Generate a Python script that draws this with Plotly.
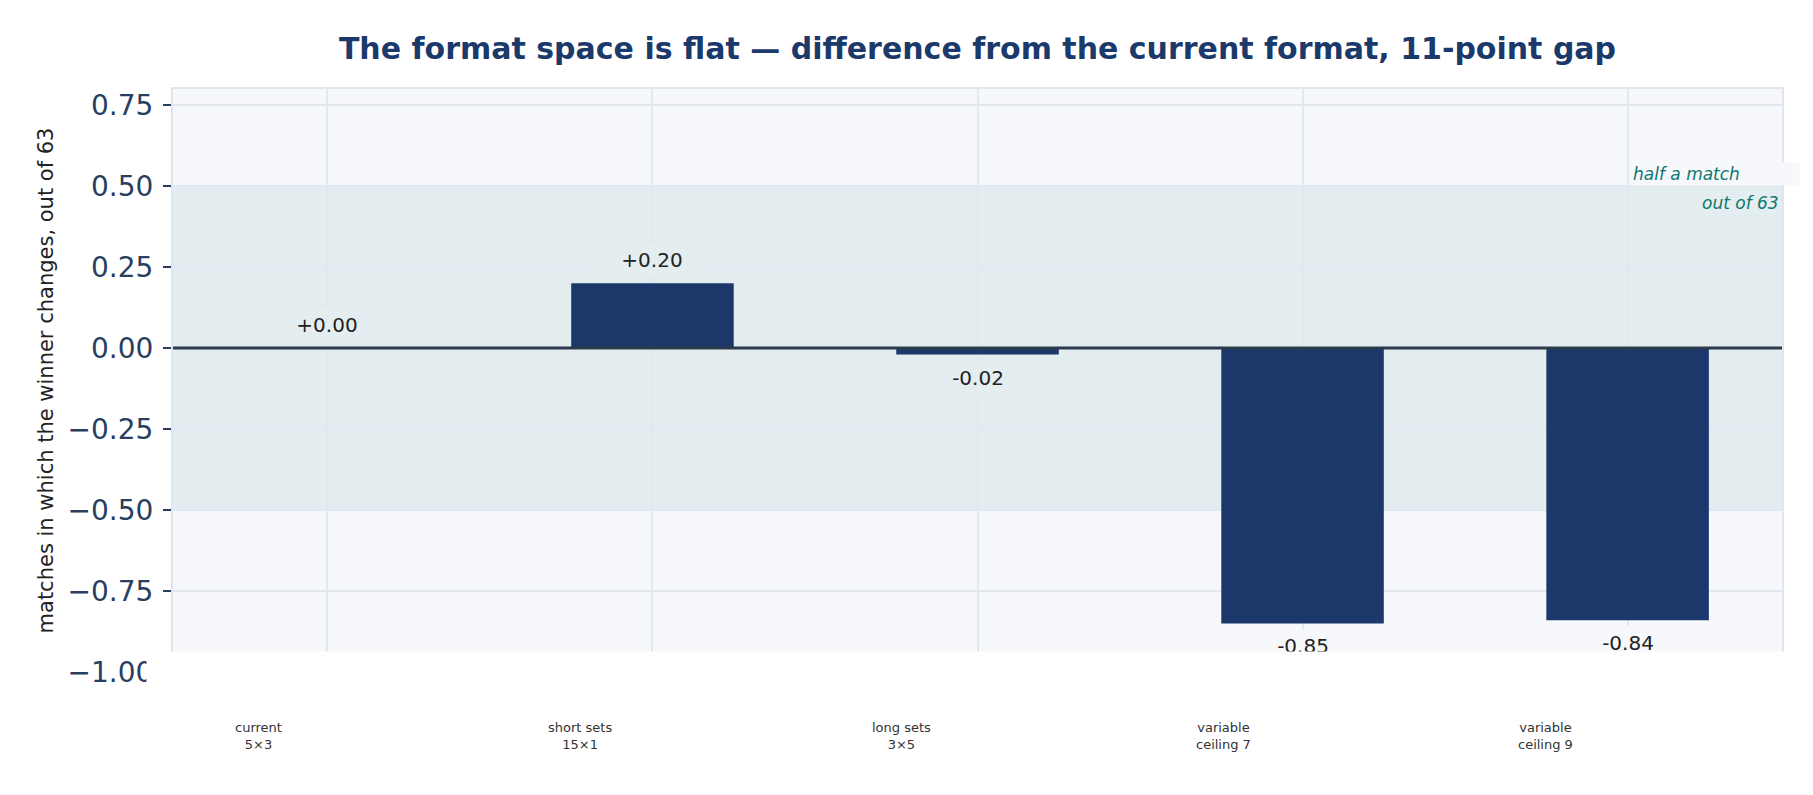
import plotly.graph_objects as go

# format options compared against the current one
formats = ["current<br>5×3", "short sets<br>15×1", "long sets<br>3×5",
           "variable<br>ceiling 7", "variable<br>ceiling 9"]
diff = [0.00, 0.20, -0.02, -0.85, -0.84]
yticks = [-1.0, -0.75, -0.5, -0.25, 0.0, 0.25, 0.5, 0.75]

NAVY = "#1c386a"
TEAL = "#0f766e"
PLOT_BG = "#f6f8fb"
BAND_BG = "#e4edf0"
GRID = "#e2e8f0"
FONT = "DejaVu Sans"

fig = go.Figure()
fig.add_trace(go.Bar(
    x=formats,
    y=diff,
    width=0.5,
    marker=dict(color=NAVY, line=dict(width=0)),
    showlegend=False,
    hoverinfo="skip",
))

# band of +/- half a match
fig.add_hrect(y0=-0.5, y1=0.5, fillcolor="rgba(15,118,110,0.08)",
              line_width=0, layer="below")
fig.add_hline(y=0, line=dict(color="#2d3a4b", width=3), layer="above")

annotations = []
for f, v in zip(formats, diff):
    annotations.append(dict(
        x=f, y=v, xref="x", yref="y",
        text="{:+.2f}".format(v),
        showarrow=False,
        yanchor="middle",
        yshift=23 if v >= 0 else -23,
        width=90,
        borderpad=4,
        bgcolor=BAND_BG if abs(v) < 0.5 else PLOT_BG,
        font=dict(family=FONT, size=20, color="#222222"),
    ))

# blank white strip over the bottom of the plot area
annotations.append(dict(
    x=-0.017, y=0.036, xref="paper", yref="paper",
    xanchor="left", yanchor="top",
    text=" ", showarrow=False,
    width=1680, height=220,
    bgcolor="white",
))

for i, f in enumerate(formats):
    annotations.append(dict(
        x=(i + 0.265) / len(formats), y=-0.11, xref="paper", yref="paper",
        text=f, showarrow=False,
        xanchor="center", yanchor="middle",
        font=dict(family=FONT, size=13, color="#333333"),
    ))

annotations.append(dict(
    x=formats[-1], y=0.5, xref="x", yref="y",
    xanchor="left", yanchor="bottom", xshift=3,
    text="<i>half a match</i>", showarrow=False,
    width=165, align="left", borderpad=1,
    bgcolor=PLOT_BG,
    font=dict(family=FONT, size=17, color=TEAL),
))
annotations.append(dict(
    x=1.0, y=0.5, xref="paper", yref="y",
    xanchor="right", yanchor="top", xshift=-1, yshift=-5,
    text="<i>out of 63</i>", showarrow=False,
    borderpad=1,
    bgcolor=BAND_BG,
    font=dict(family=FONT, size=17, color=TEAL),
))

fig.update_layout(
    width=1813,
    height=795,
    margin=dict(l=165, r=39, t=81, b=131),
    paper_bgcolor="white",
    plot_bgcolor=PLOT_BG,
    font=dict(family=FONT, color="#2a3f5f"),
    title=dict(
        text="<b>The format space is flat — difference from the current format, 11-point gap</b>",
        x=0.5, xref="paper", xanchor="center",
        y=1 - 40 / 795, yanchor="middle",
        font=dict(family=FONT, size=30, color="#1b3a6b"),
    ),
    xaxis=dict(
        range=[-0.475, 4.475],
        showgrid=True, gridcolor=GRID, gridwidth=2,
        showticklabels=False,
        showline=True, linecolor="#dfe6ee", linewidth=2, mirror=True,
        automargin=False,
    ),
    yaxis=dict(
        range=[-1.0, 0.8],
        tickvals=yticks, tickformat=".2f",
        tickfont=dict(size=28, color="#2a3f5f"),
        ticks="outside", ticklen=8, tickwidth=2, tickcolor="#2a3f5f",
        ticklabelstandoff=4,
        showgrid=True, gridcolor=GRID, gridwidth=2,
        zeroline=False,
        showline=True, linecolor="#dfe6ee", linewidth=2, mirror=True,
        title=dict(text="matches in which the winner changes, out of 63",
                   font=dict(size=21, color="#222222"), standoff=8),
        automargin=False,
    ),
    annotations=annotations,
    bargap=0.5,
)

fig.write_html("out.html")
